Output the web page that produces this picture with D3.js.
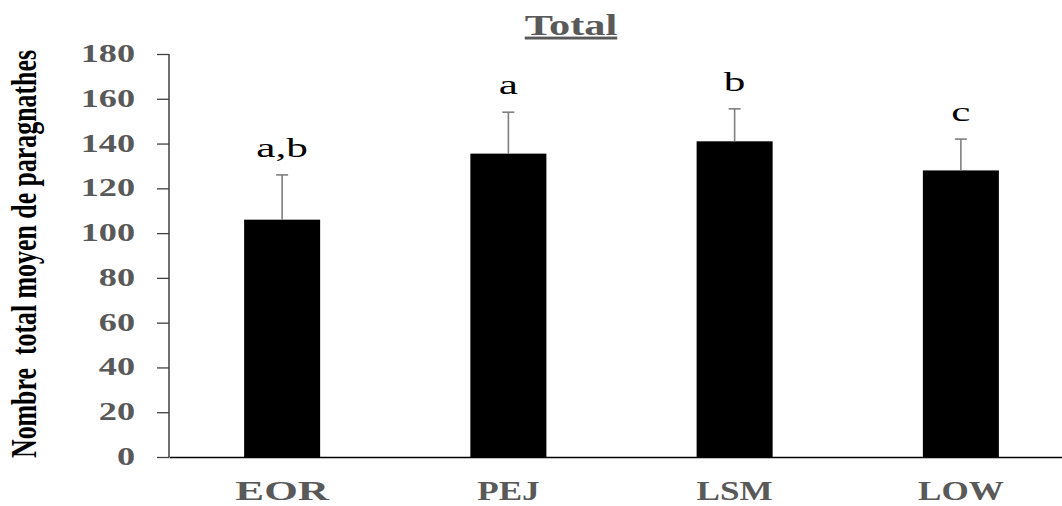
<!DOCTYPE html>
<html>
<head>
<meta charset="utf-8">
<script src="https://cdn.jsdelivr.net/npm/d3@7"></script>
<style>
  body { margin: 0; background: #fff; }
  svg { display: block; }
</style>
</head>
<body>
<svg id="chart" width="1062" height="506"></svg>
<script>
// data
const sites = ['EOR', 'PEJ', 'LSM', 'LOW']
const means = [106, 135.5, 141, 128]
const errors = [20, 18.5, 14.5, 14]
const letters = ['a,b', 'a', 'b', 'c']
const yTicks = [0, 20, 40, 60, 80, 100, 120, 140, 160, 180]

const svg = d3.select('#chart')
const gray = '#595959'
const serif = '"Liberation Serif", "Times New Roman", serif'

let x = d3.scaleBand().domain(sites).range([169, 1074]).paddingInner(0.664).paddingOuter(0.332)
let y = d3.scaleLinear().domain([0, 180]).range([457, 54])

// stretched text helper (the original is horizontally wide)
function wideText(px, py, str, sx) {
    return svg.append('text')
        .attr('transform', `translate(${px},${py}) scale(${sx},1)`)
        .style('font-family', serif)
        .text(str)
}

// y axis
const yAxis = svg.append('g')
    .attr('transform', 'translate(169,0)')
    .call(d3.axisLeft(y).tickValues(yTicks).tickSize(12).tickFormat(''))
yAxis.select('.domain').attr('stroke', '#404040').attr('stroke-width', 1.5)
    .attr('d', `M0,${y(180)}V${y(0)}`)
yAxis.selectAll('.tick line').attr('stroke', '#404040').attr('stroke-width', 1.3)

yTicks.forEach(t => {
    wideText(135, y(t) + 8, t, 1.45)
        .attr('text-anchor', 'end')
        .style('font-size', '25px')
        .style('font-weight', 'bold')
        .attr('fill', gray)
})

// bars
svg.selectAll('rect.bar').data(sites).enter()
    .append('rect')
    .attr('class', 'bar')
    .attr('x', d => x(d))
    .attr('width', x.bandwidth())
    .attr('y', (d, i) => y(means[i]))
    .attr('height', (d, i) => y(0) - y(means[i]))
    .attr('fill', '#000')

// error bars
sites.forEach((s, i) => {
    const cx = x(s) + x.bandwidth() / 2
    svg.append('line')
        .attr('x1', cx).attr('x2', cx)
        .attr('y1', y(means[i])).attr('y2', y(means[i] + errors[i]))
        .attr('stroke', '#7f7f7f').attr('stroke-width', 1.6)
    svg.append('line')
        .attr('x1', cx - 6).attr('x2', cx + 6)
        .attr('y1', y(means[i] + errors[i])).attr('y2', y(means[i] + errors[i]))
        .attr('stroke', '#7f7f7f').attr('stroke-width', 1.6)
    wideText(cx, y(means[i] + errors[i]) - 18, letters[i], 1.6)
        .attr('text-anchor', 'middle')
        .style('font-size', '27px')
        .attr('fill', '#000')
})

// x axis
const xAxis = svg.append('g')
    .attr('transform', `translate(0,${y(0)})`)
    .call(d3.axisBottom(x).tickSize(0).tickFormat(''))
xAxis.select('.domain').attr('stroke', '#000').attr('stroke-width', 1.6)

sites.forEach(s => {
    wideText(x(s) + x.bandwidth() / 2, 500, s, s === 'EOR' ? 1.6 : 1.3)
        .attr('text-anchor', 'middle')
        .style('font-size', '27px')
        .style('font-weight', 'bold')
        .attr('fill', gray)
})

// title
wideText(571, 35, 'Total', 1.46)
    .attr('text-anchor', 'middle')
    .style('font-size', '29px')
    .style('font-weight', 'bold')
    .style('text-decoration', 'underline')
    .attr('fill', gray)

// y title (rotated, condensed along its length)
svg.append('text')
    .attr('transform', 'translate(36,254) rotate(-90) scale(1,1.5)')
    .attr('text-anchor', 'middle')
    .attr('textLength', 408)
    .attr('lengthAdjust', 'spacingAndGlyphs')
    .style('font-family', serif)
    .style('font-size', '24px')
    .style('font-weight', 'bold')
    .style('white-space', 'pre')
    .attr('fill', '#000')
    .text('Nombre  total moyen de paragnathes')
</script>
</body>
</html>
